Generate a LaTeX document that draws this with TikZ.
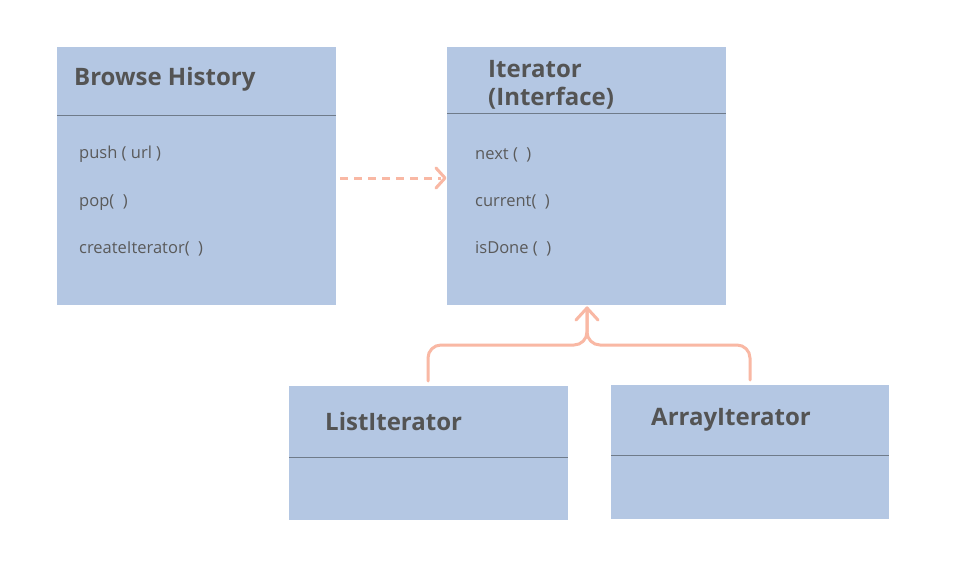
\documentclass[tikz,border=0pt]{standalone}
\usepackage{fontspec}
\setmainfont{Open Sans}
\usetikzlibrary{calc}
\definecolor{boxfill}{HTML}{B4C7E3}
\definecolor{sepline}{HTML}{6F7B8A}
\definecolor{titlecol}{HTML}{545454}
\definecolor{methcol}{HTML}{5A5A5A}
\definecolor{conncol}{HTML}{F9B8A4}
\begin{document}
\begin{tikzpicture}[x=1pt,y=-1pt,
  classbox/.style={fill=boxfill, draw=none, anchor=north west, inner sep=0pt},
  sep/.style={draw=sepline, line width=1pt},
  ctitle/.style={font=\fontsize{24}{28.5}\selectfont\bfseries, text=titlecol, anchor=base west, inner sep=0pt},
  cmeth/.style={font=\fontsize{16.5}{20}\selectfont, text=methcol, anchor=base west, inner sep=0pt},
  conn/.style={draw=conncol, line width=3pt, line cap=round, line join=round},
]
\useasboundingbox[fill=white] (0,0) rectangle (958,586);

% boxes
\node[classbox, minimum width=279pt, minimum height=258pt] (bh) at (57,47) {};
\node[classbox, minimum width=279pt, minimum height=258pt] (it) at (447,47) {};
\node[classbox, minimum width=279pt, minimum height=134pt] (li) at (289,386) {};
\node[classbox, minimum width=278pt, minimum height=134pt] (ai) at (611,385) {};

% separators
\draw[sep] (57,115) -- (336,115);
\draw[sep] (447,113) -- (726,113);
\draw[sep] (289,457) -- (568,457);
\draw[sep] (611,455) -- (889,455);

% titles
\node[ctitle] (bht) at (74,85) {Browse History};
\node[ctitle, align=left, anchor=north west] (itt) at (488,60) {Iterator\\(Interface)};
\node[ctitle] (lit) at (325,430) {ListIterator};
\node[ctitle] (ait) at (651,425) {ArrayIterator};

% methods
\node[cmeth] (m1) at (79,158) {push ( url )};
\node[cmeth] (m2) at (79,206) {pop(~~)};
\node[cmeth] (m3) at (79,253) {createIterator(~~)};
\node[cmeth] (m4) at (475,159) {next (~~)};
\node[cmeth] (m5) at (475,206) {current(~~)};
\node[cmeth] (m6) at (475,253) {isDone (~~)};

% dependency arrow
\coordinate (dstart) at (340,178);
\coordinate (dtip) at (445,178);
\draw[conn, line cap=butt, dash pattern=on 8pt off 6pt] (dstart) -- ($(dtip)+(-4,0)$);
\draw[conn] ($(dtip)+(-9,-10)$) -- (dtip) -- ($(dtip)+(-9,10)$);

% inheritance connectors
\coordinate (lstart) at (428,381);
\coordinate (rstart) at (750,380);
\coordinate (junc) at (587,345);
\coordinate (tip) at (587,308);
\draw[conn, rounded corners=13pt] (lstart) |- (junc) -- (tip);
\draw[conn, rounded corners=13pt] (rstart) |- (junc) -- (tip);
\draw[conn] ($(tip)+(-11,12)$) -- (tip) -- ($(tip)+(11,12)$);
\end{tikzpicture}
\end{document}
